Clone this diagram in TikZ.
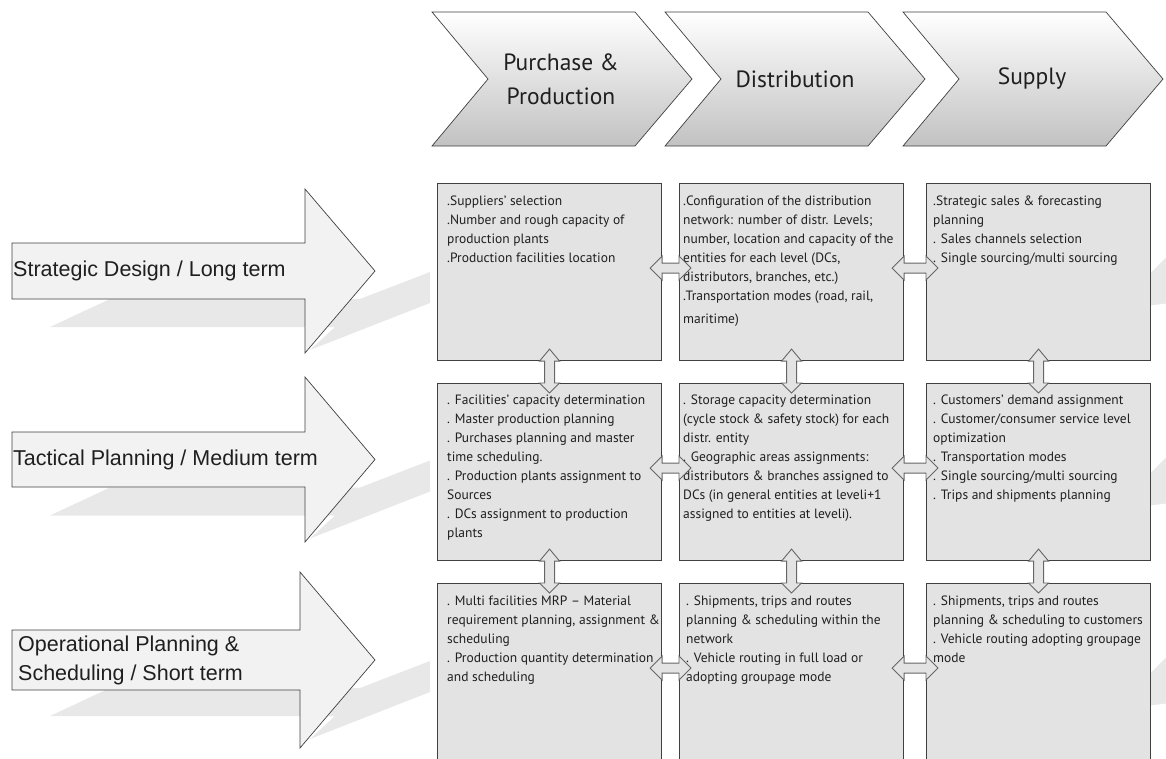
\documentclass[tikz,border=0pt]{standalone}
\usepackage{fontspec}
\setmainfont{PT Sans}
\newfontfamily\arialfont{Liberation Sans}
\usetikzlibrary{positioning,calc}

\tikzset{
  cellbox/.style={draw=black!75, line width=1.1pt, fill=black!11, minimum width=224pt,
    minimum height=177pt, inner sep=0pt, anchor=north west},
  celltext/.style={align=left, font=\fontsize{13.5}{19}\selectfont, inner sep=0pt, text=black!88},
  dblarrow/.style={draw=black!60, line width=0.9pt, fill=black!11},
  chevron/.style={draw=black!75, line width=0.7pt, top color=white, bottom color=black!24},
  levelarrow/.style={draw=black!75, line width=0.7pt, fill=black!5},
  castshadow/.style={fill=black!9},
  stagetext/.style={align=center, font=\fontsize{23.5}{34}\selectfont, text=black!88},
  leveltext/.style={align=left, font=\arialfont\fontsize{21.5}{29}\selectfont, inner sep=0pt,
    anchor=west, text=black!88},
}

% hollow double arrow between two boxes side by side
\newcommand{\harrow}[2]{%
  \draw[dblarrow] let \p1=(#1.east), \p2=(#2.west) in
    (\x1-12pt,\y1+4pt) -- (\x1,\y1+16pt) -- (\x1,\y1+9pt) -- (\x2,\y1+9pt) -- (\x2,\y1+16pt)
    -- (\x2+12pt,\y1+4pt) -- (\x2,\y1-8pt) -- (\x2,\y1-1pt) -- (\x1,\y1-1pt) -- (\x1,\y1-8pt) -- cycle;}
% hollow double arrow between two boxes one above the other
\newcommand{\varrow}[2]{%
  \draw[dblarrow] let \p1=(#1.south), \p2=(#2.north) in
    (\x1,\y1+12pt) -- (\x1+10pt,\y1) -- (\x1+5pt,\y1) -- (\x1+5pt,\y2) -- (\x1+10pt,\y2)
    -- (\x1,\y2-10pt) -- (\x1-10pt,\y2) -- (\x1-5pt,\y2) -- (\x1-5pt,\y1) -- (\x1-10pt,\y1) -- cycle;}

\begin{document}
\begin{tikzpicture}[x=1pt,y=-1pt]
  \path[use as bounding box, clip] (0,0) rectangle (1166,758);

  % shadows
  \foreach \cy in {271,459.5,660}
    \fill[castshadow] (50,{\cy+56}) -- (110,{\cy+28}) -- (360,{\cy+28}) -- (430,{\cy+1})
      -- (430,{\cy+32}) -- (310,{\cy+79}) -- (335,{\cy+56}) -- cycle;
  \foreach \cy in {271.5,471.5,671.5}
    \fill[castshadow] (1150,{\cy+2}) -- (1166,{\cy-14}) -- (1166,{\cy+32}) -- (1150,{\cy+34}) -- cycle;

  % level arrows
  \foreach \cy/\sh/\hh/\xe in {271/28/82/305, 459.5/27.5/82.5/305, 660/30/88/300}
    \draw[levelarrow] (12,{\cy-\sh}) -- (\xe,{\cy-\sh}) -- (\xe,{\cy-\hh}) -- (375,\cy)
      -- (\xe,{\cy+\hh}) -- (\xe,{\cy+\sh}) -- (12,{\cy+\sh}) -- cycle;
  \node[leveltext] (strategic) at (13,271) {Strategic Design / Long term};
  \node[leveltext] (tactical) at (13,459.5) {Tactical Planning / Medium term};
  \node[leveltext] (operational) at (18,660) {Operational Planning \&\\Scheduling / Short term};

  % chain stages
  \foreach \x in {432,665,903}
    \draw[chevron] (\x,12) -- ({\x+203},12) -- ({\x+260},79) -- ({\x+203},146) -- (\x,146)
      -- ({\x+56},79) -- cycle;
  \node[stagetext] (purchase) at (561,79) {Purchase \&\\Production};
  \node[stagetext] (distribution) at (795,79) {Distribution};
  \node[stagetext] (supply) at (1032,79) {Supply};

  % boxes
  \node[cellbox] (strat1) at (437,183) {};
  \node[cellbox] (strat2) at (679,183) {};
  \node[cellbox] (strat3) at (926,183) {};
  \node[cellbox] (tact1) at (437,383) {};
  \node[cellbox] (tact2) at (679,383) {};
  \node[cellbox] (tact3) at (926,383) {};
  \node[cellbox] (oper1) at (437,583) {};
  \node[cellbox] (oper2) at (679,583) {};
  \node[cellbox] (oper3) at (926,583) {};

  \node[celltext, below right=13pt and 10pt of strat1.north west] (strat1txt)
    {.Suppliers' selection\\.Number and rough capacity of\\production plants\\.Production facilities location};
  \node[celltext, below right=13pt and 4pt of strat2.north west] (strat2txt)
    {.Configuration of the distribution\\network: number of distr. Levels;\\number, location and capacity of the\\entities for each level (DCs,\\distributors, branches, etc.)\\.Transportation modes (road, rail,\\[4pt]maritime)};
  \node[celltext, below right=13pt and 7pt of strat3.north west] (strat3txt)
    {.Strategic sales \& forecasting\\planning\\. Sales channels selection\\. Single sourcing/multi sourcing};

  \node[celltext, below right=12pt and 10pt of tact1.north west] (tact1txt)
    {. Facilities' capacity determination\\. Master production planning\\. Purchases planning and master\\time scheduling.\\. Production plants assignment to\\Sources\\. DCs assignment to production\\plants};
  \node[celltext, below right=12pt and 4pt of tact2.north west] (tact2txt)
    {. Storage capacity determination\\(cycle stock \& safety stock) for each\\distr. entity\\. Geographic areas assignments:\\distributors \& branches assigned to\\DCs (in general entities at leveli+1\\assigned to entities at leveli).};
  \node[celltext, below right=12pt and 7pt of tact3.north west] (tact3txt)
    {. Customers' demand assignment\\. Customer/consumer service level\\optimization\\. Transportation modes\\. Single sourcing/multi sourcing\\. Trips and shipments planning};

  \node[celltext, below right=13pt and 10pt of oper1.north west] (oper1txt)
    {. Multi facilities MRP -- Material\\requirement planning, assignment \&\\scheduling\\. Production quantity determination\\and scheduling};
  \node[celltext, below right=13pt and 7pt of oper2.north west] (oper2txt)
    {. Shipments, trips and routes\\planning \& scheduling within the\\network\\. Vehicle routing in full load or\\adopting groupage mode};
  \node[celltext, below right=13pt and 7pt of oper3.north west] (oper3txt)
    {. Shipments, trips and routes\\planning \& scheduling to customers\\ . Vehicle routing adopting groupage\\mode};

  % links between boxes
  \harrow{strat1}{strat2}
  \harrow{strat2}{strat3}
  \harrow{tact1}{tact2}
  \harrow{tact2}{tact3}
  \harrow{oper1}{oper2}
  \harrow{oper2}{oper3}
  \varrow{strat1}{tact1}
  \varrow{strat2}{tact2}
  \varrow{strat3}{tact3}
  \varrow{tact1}{oper1}
  \varrow{tact2}{oper2}
  \varrow{tact3}{oper3}
\end{tikzpicture}
\end{document}
